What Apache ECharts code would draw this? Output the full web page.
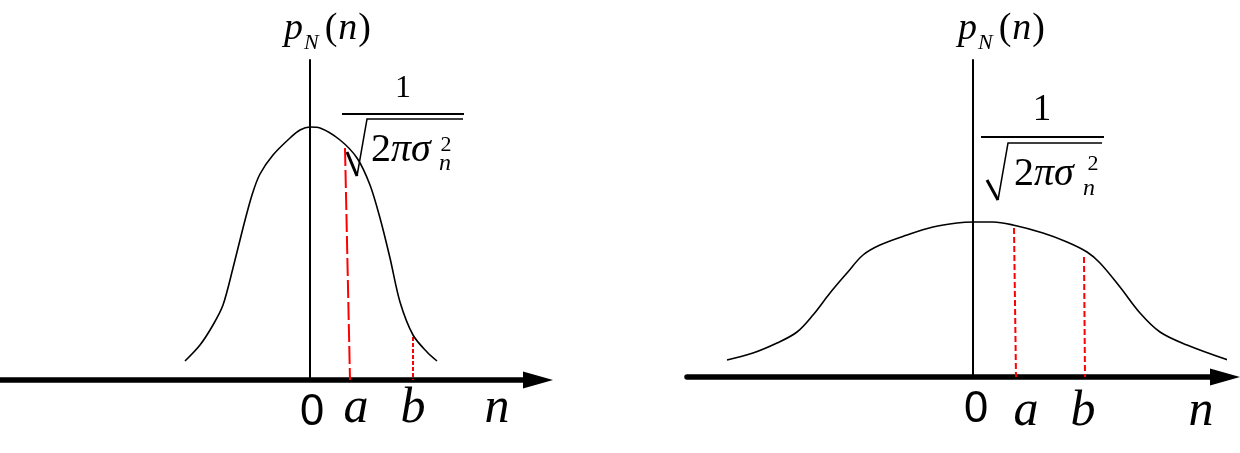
<!DOCTYPE html>
<html>
<head>
<meta charset="utf-8">
<script src="https://cdn.jsdelivr.net/npm/echarts@6/dist/echarts.min.js"></script>
<style>html,body{margin:0;padding:0;background:#fff}#c{width:1240px;height:453px}</style>
</head>
<body>
<div id="c"></div>
<script>
// ---- data (n in arbitrary units, p_N(n) in arbitrary units) ----
// left panel: small variance (narrow, tall)
const leftCurve = [
  [-12.5,0.19],[-11.0,0.35],[-9.7,0.55],[-8.7,0.75],[-7.7,1.12],[-6.7,1.52],[-5.8,1.85],
  [-5.0,2.06],[-3.7,2.25],[-2.0,2.42],[-1.0,2.50],[0,2.53],[1.0,2.52],[3.0,2.40],[4.7,2.22],[6.0,1.95],
  [7.0,1.62],[8.0,1.22],[9.0,0.78],[10.3,0.45],[11.7,0.28],[12.7,0.19]
];
const leftLineA = [[3.5,2.32],[4.0,0]];
const leftLineB = [[10.3,0.43],[10.3,0]];
const leftTickValues = [0.2, 4.6, 10.3, 18.7];

// right panel: large variance (wide, flat)
const rightCurve = [
  [-24.6,0.17],[-22.0,0.24],[-19.6,0.34],[-17.6,0.45],[-16.0,0.62],[-14.3,0.84],[-12.6,1.04],
  [-11.0,1.22],[-9.3,1.32],[-6.6,1.42],[-4.0,1.50],[-1.6,1.54],[0,1.55],[2.0,1.55],[4.0,1.52],
  [7.0,1.44],[9.4,1.35],[11.4,1.25],[12.7,1.14],[14.7,0.90],[16.7,0.64],[18.7,0.45],
  [21.4,0.32],[25.5,0.17]
];
const rightLineA = [[4.1,1.49],[4.3,0]];
const rightLineB = [[11.1,1.20],[11.2,0]];
const rightTickValues = [0.3, 5.3, 11.0, 22.8];

const tickLabels = ['0', 'a', 'b', 'n'];
const densityNumerator = '1';

// ---- chart ----
const chart = echarts.init(document.getElementById('c'), null, {renderer: 'canvas'});
const SERIF = '"Liberation Serif", "Times New Roman", serif';
const SANS = '"Noto Sans", "DejaVu Sans", sans-serif';

function labelFormatter(vals, italicKey) {
  return function (v) {
    let best = 0, d = Infinity;
    vals.forEach(function (x, i) { if (Math.abs(x - v) < d) { d = Math.abs(x - v); best = i; } });
    const t = tickLabels[best];
    return t === '0' ? '{z|' + t + '}' : '{' + italicKey + '|' + t + '}';
  };
}
const nameRich = {
  p: {fontFamily: SERIF, fontStyle: 'italic', fontSize: 38, lineHeight: 44, verticalAlign: 'top', color: '#000'},
  s: {fontFamily: SERIF, fontStyle: 'italic', fontSize: 22, verticalAlign: 'bottom', padding: [0, 5, 0, 1], color: '#000'},
  q: {fontFamily: SERIF, fontSize: 38, lineHeight: 44, verticalAlign: 'top', padding: [0, 1, 0, 1], color: '#000'}
};
const nameText = '{p|p}{s|N}{q|(}{p|n}{q|)}';

function xAxisCfg(idx, min, max, vals, italicKey) {
  return {
    type: 'value', gridIndex: idx, min: min, max: max,
    axisLine: {show: true, onZero: true, symbol: ['none', 'triangle'], symbolSize: [17, 30],
      lineStyle: {color: '#000', width: 5.5}},
    axisTick: {show: false}, splitLine: {show: false},
    axisLabel: {
      show: true, margin: 0, customValues: vals, formatter: labelFormatter(vals, italicKey),
      rich: {
        z: {fontFamily: SANS, fontSize: 44, lineHeight: 64, color: '#000'},
        il: {fontFamily: SERIF, fontStyle: 'italic', fontSize: 50, lineHeight: 58, color: '#000'},
        ir: {fontFamily: SERIF, fontStyle: 'italic', fontSize: 50, lineHeight: 70, color: '#000'}
      }
    }
  };
}
function yAxisCfg(idx, max, padLeft) {
  return {
    type: 'value', gridIndex: idx, min: 0, max: max,
    axisLine: {show: true, onZero: true, lineStyle: {color: '#000', width: 2}},
    axisTick: {show: false}, axisLabel: {show: false}, splitLine: {show: false},
    name: nameText, nameLocation: 'end', nameGap: 6,
    nameTextStyle: {rich: nameRich, padding: [0, 0, 0, padLeft]}
  };
}
function curve(idx, data, smooth) {
  return {type: 'line', xAxisIndex: idx, yAxisIndex: idx, data: data, smooth: smooth, showSymbol: false,
    clip: false, lineStyle: {color: '#000', width: 1.6}, z: 3};
}
function redLine(idx, data, dash) {
  return {type: 'line', xAxisIndex: idx, yAxisIndex: idx, data: data, showSymbol: false, clip: false,
    lineStyle: {color: '#ff0000', width: 2, type: dash}, z: 2};
}

function formula(o) {
  const els = [];
  els.push({type: 'text', x: o.oneX, y: o.oneY, style: {text: densityNumerator, font: o.oneSize + 'px ' + SERIF,
    fill: '#000', textAlign: 'center', textVerticalAlign: 'middle'}});
  els.push({type: 'line', shape: {x1: o.barX1, y1: o.barY, x2: o.barX2, y2: o.barY}, style: {stroke: '#000', lineWidth: 2}});
  els.push({type: 'line', shape: {x1: o.hook[0][0], y1: o.hook[0][1], x2: o.hook[1][0], y2: o.hook[1][1]},
    style: {stroke: '#000', lineWidth: 3}});
  els.push({type: 'polyline', shape: {points: o.rad}, style: {stroke: '#000', lineWidth: 1.5, fill: null}});
  els.push({type: 'text', x: o.tX, y: o.tY, style: {text: '{d|2}{g|πσ}', textAlign: 'left', textVerticalAlign: 'middle',
    rich: {d: {fontFamily: SERIF, fontSize: 40, color: '#000'}, g: {fontFamily: SERIF, fontSize: 40, fontStyle: 'italic', color: '#000'}}}});
  els.push({type: 'text', x: o.supX, y: o.supY, style: {text: '2', font: '22px ' + SERIF, fill: '#000',
    textAlign: 'center', textVerticalAlign: 'middle'}});
  els.push({type: 'text', x: o.subX, y: o.subY, style: {text: 'n', font: 'italic 24px ' + SERIF, fill: '#000',
    textAlign: 'center', textVerticalAlign: 'middle'}});
  return els;
}

const graphics = [].concat(
  formula({oneX: 403, oneY: 89, oneSize: 32, barX1: 342, barX2: 464, barY: 114,
    hook: [[347, 152], [357, 176]], rad: [[357, 176], [367, 119], [463, 119]],
    tX: 371, tY: 150, supX: 446, supY: 145, subX: 445, subY: 164}),
  formula({oneX: 1042, oneY: 110, oneSize: 37, barX1: 981, barX2: 1104, barY: 137,
    hook: [[987, 180], [998, 200]], rad: [[998, 200], [1008, 143], [1102, 143]],
    tX: 1014, tY: 174, supX: 1093, supY: 164, subX: 1089, subY: 189})
);

chart.setOption({
  animation: false,
  backgroundColor: '#fff',
  grid: [
    {left: 0, top: 60, width: 538, height: 320, containLabel: false},
    {left: 687, top: 60, width: 538, height: 317, containLabel: false}
  ],
  xAxis: [xAxisCfg(0, -31, 22.8, leftTickValues, 'il'), xAxisCfg(1, -28.6, 25.2, rightTickValues, 'ir')],
  yAxis: [yAxisCfg(0, 3.2, 36), yAxisCfg(1, 3.17, 58)],
  series: [
    curve(0, leftCurve, 0.3), redLine(0, leftLineA, [18, 4]), redLine(0, leftLineB, [4, 2]),
    curve(1, rightCurve, 0.35), redLine(1, rightLineA, [6, 3]), redLine(1, rightLineB, [6, 3])
  ],
  graphic: graphics
});
</script>
</body>
</html>
